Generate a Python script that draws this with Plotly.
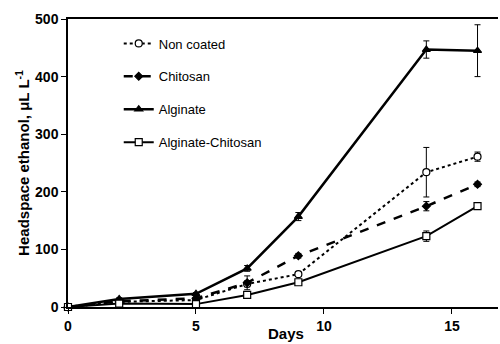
import plotly.graph_objects as go

days = [0, 2, 5, 7, 9, 14, 16]
non_coated = [0, 9, 12, 40, 57, 234, 261]
non_coated_err = [0, 2, 2, 5, 4, 43, 8]
chitosan = [0, 10, 15, 42, 89, 175, 213]
chitosan_err = [0, 2, 2, 12, 4, 8, 4]
alginate = [0, 14, 23, 67, 157, 447, 445]
alginate_err = [0, 2, 2, 5, 7, 15, 45]
alg_chit = [0, 6, 5, 21, 43, 123, 175]
alg_chit_err = [0, 1, 1, 3, 3, 9, 3]

series = [
    ("Non coated", non_coated, non_coated_err, "dot", 2, "circle", "white", 7),
    ("Chitosan", chitosan, chitosan_err, "dash", 2.5, "diamond", "black", 6),
    ("Alginate", alginate, alginate_err, "solid", 2.5, "triangle-up", "black", 7),
    ("Alginate-Chitosan", alg_chit, alg_chit_err, "solid", 2, "square", "white", 7),
]

fig = go.Figure()
for i, (name, vals, errs, dash, lw, sym, fill, ms) in enumerate(series):
    fig.add_trace(go.Scatter(
        x=days, y=vals, name=name, mode="lines+markers",
        legendgroup=f"g{i}",
        line=dict(color="black", width=lw, dash=dash),
        marker=dict(symbol=sym, size=ms, color=fill,
                    line=dict(color="black", width=1.2)),
        error_y=dict(type="data", array=errs, visible=True, color="black",
                     thickness=1, width=3),
        cliponaxis=False,
    ))

fig.update_layout(
    width=500, height=344,
    margin=dict(l=68, r=2, t=19, b=37),
    plot_bgcolor="white", paper_bgcolor="white",
    font=dict(family="Liberation Sans, Arial, sans-serif", color="black", size=13),
    showlegend=True,
    legend=dict(x=0.118, y=0.967, xanchor="left", yanchor="top",
                bgcolor="rgba(0,0,0,0)", tracegroupgap=13,
                font=dict(size=13), itemwidth=30),
    xaxis=dict(range=[0, 16.8], tickvals=[0, 5, 10, 15], showline=True,
               linecolor="black", linewidth=1.5, mirror=True, ticks="outside",
               ticklen=5, tickcolor="black", showgrid=False, zeroline=False,
               automargin=False,
               tickfont=dict(size=14, weight="bold")),
    yaxis=dict(range=[0, 500], tickvals=[0, 100, 200, 300, 400, 500], showline=True,
               linecolor="black", linewidth=1.5, ticks="outside", ticklen=5,
               tickcolor="black", showgrid=False, zeroline=False,
               automargin=False,
               tickfont=dict(size=14, weight="bold"),
               title=dict(text="Headspace ethanol, μL L<sup>-1</sup>",
                          font=dict(size=15, weight="bold"), standoff=2)),
    annotations=[dict(text="Days", xref="paper", yref="paper", x=0.507, y=-0.128,
                      xanchor="center", yanchor="bottom", showarrow=False,
                      font=dict(size=15, weight="bold"))],
)

fig.write_html("out.html", config={"displayModeBar": False},
               post_script="document.body.style.margin='0';document.body.style.overflow='hidden';")
